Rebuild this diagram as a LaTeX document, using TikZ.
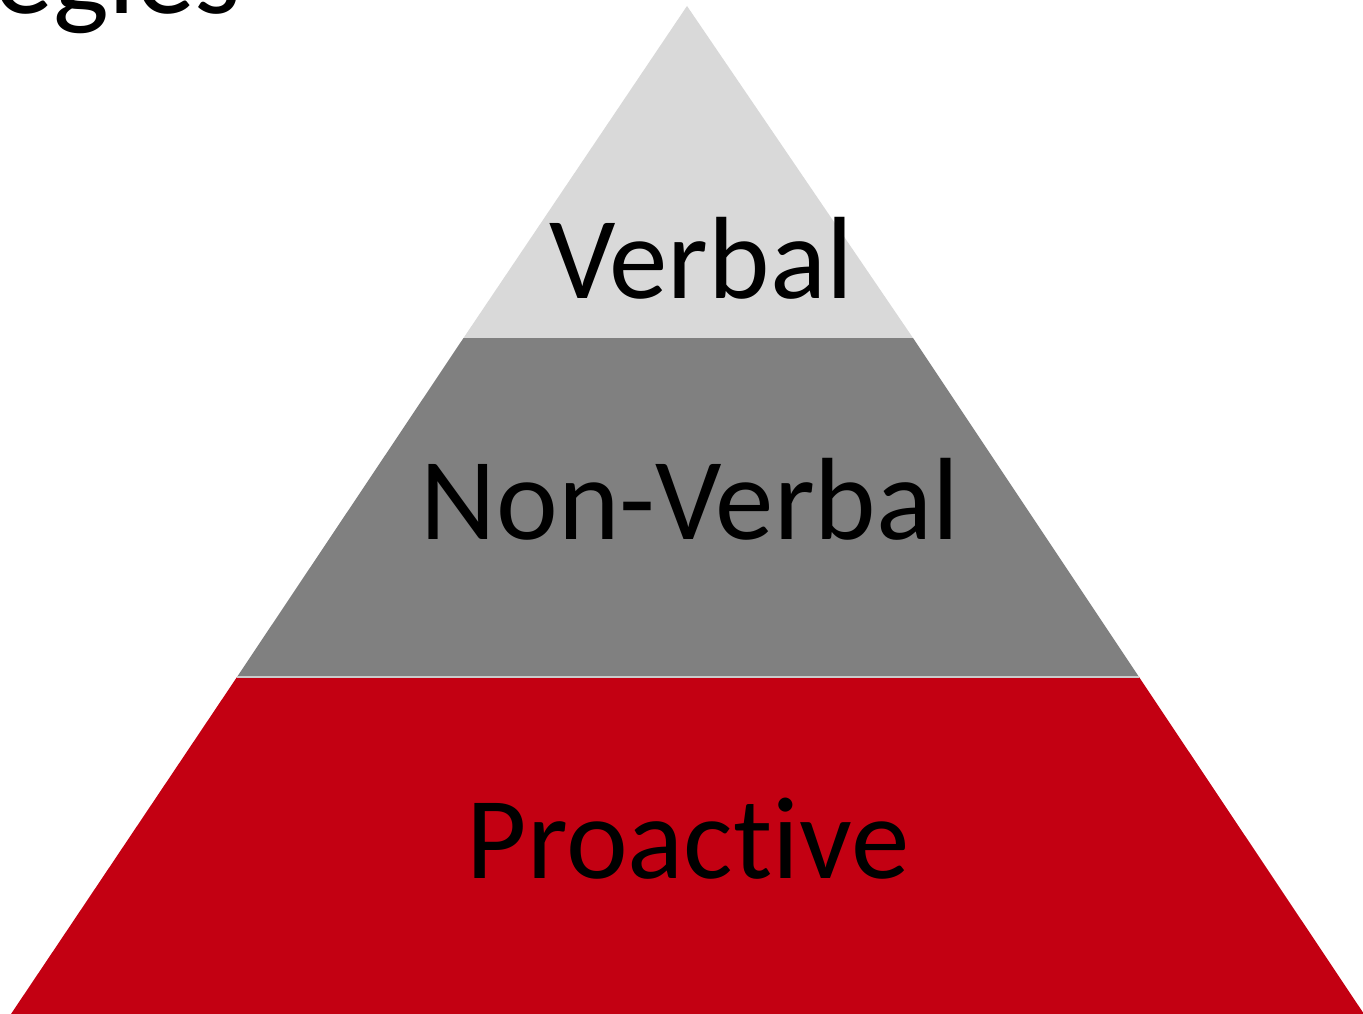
\documentclass[tikz,border=0pt]{standalone}
\usepackage{fontspec}
\setmainfont{Carlito}[RawFeature={-liga}]
\definecolor{toplayer}{HTML}{D9D9D9}
\definecolor{midlayer}{HTML}{808080}
\definecolor{baselayer}{HTML}{C30012}
\definecolor{seamline}{HTML}{CBCBCB}
\begin{document}
\begin{tikzpicture}[x=1pt,y=-1pt,
  layertext/.style={font=\fontsize{117}{117}\selectfont, text=black, inner sep=0pt, anchor=base}]
\useasboundingbox (0,0) rectangle (1363,1014);
\clip (0,0) rectangle (1363,1014);
\fill[white] (0,0) rectangle (1363,1014);
% layers
\coordinate (apex) at (687,6);
\coordinate (l1) at (463.5,338); \coordinate (r1) at (913,338);
\coordinate (l2) at (237,677); \coordinate (r2) at (1139,677);
\coordinate (l3) at (11,1014); \coordinate (r3) at (1364,1014);
\fill[toplayer] (apex) -- (r1) -- (l1) -- cycle;
\fill[midlayer] (l1) -- (r1) -- (r2) -- (l2) -- cycle;
\fill[baselayer] (l2) -- (r2) -- (r3) -- (l3) -- cycle;
\draw[seamline, line width=2pt] (l2) -- (r2);
% texts
\node[layertext] (verbal) at (701,298) {Verbal};
\node[layertext] (nonverbal) at (690,539) {Non-Verbal};
\node[layertext] (proactive) at (688,878) {Proactive};
\node[font=\fontsize{118}{118}\selectfont, inner sep=0pt, anchor=base east] (title) at (241,14) {Strategies};
\end{tikzpicture}
\end{document}
